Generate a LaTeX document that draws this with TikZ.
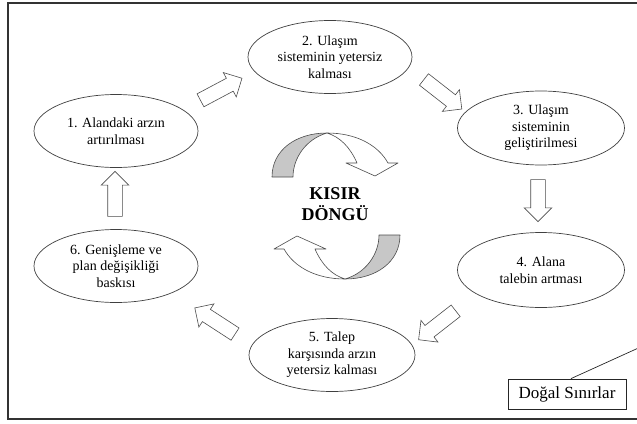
\documentclass[tikz,border=0pt]{standalone}
\usepackage{fontspec}
\setmainfont{Liberation Serif}
\usetikzlibrary{shapes.geometric,shapes.arrows}
\begin{document}
\begin{tikzpicture}[x=1pt,y=-1pt,
  ell/.style={draw=black!75, line width=0.7pt, ellipse, minimum width=164pt, minimum height=73pt, inner sep=0pt, align=center, font=\fontsize{14}{16.5}\selectfont},
  barr/.style={draw=black!70, line width=0.6pt, single arrow, single arrow head extend=6.5pt, single arrow head indent=0pt, minimum width=27pt, minimum height=46pt, inner sep=0pt, fill=white},
  band/.style={draw=black!70, line width=0.6pt, line join=round}]
\useasboundingbox (0,0) rectangle (637,423);
\clip (0,0) rectangle (637,423);
\draw[line width=1.4pt, black!80] (8,3) rectangle (660,419);

\node[ell] (e1) at (116,131) {1. Alandaki arzın\\artırılması};
\node[ell] (e2) at (330,57) {2. Ulaşım\\sisteminin yetersiz\\kalması};
\node[ell, minimum width=167pt, minimum height=74pt] (e3) at (541,128) {3. Ulaşım\\sisteminin\\geliştirilmesi};
\node[ell, minimum width=167pt, minimum height=75pt] (e4) at (541,270) {4. Alana\\talebin artması};
\node[ell, minimum width=166pt] (e5) at (332,355) {5. Talep\\karşısında arzın\\yetersiz kalması};
\node[ell] (e6) at (116,266) {6. Genişleme ve\\plan değişikliği\\baskısı};

\node[barr, rotate=28, minimum height=47pt] (a12) at (218,91) {\rule{0pt}{14pt}};
\node[barr, rotate=-38, minimum height=48pt] (a23) at (440,92) {\rule{0pt}{14pt}};
\node[barr, rotate=-90, minimum height=42pt] (a34) at (538,197) {\rule{0pt}{14pt}};
\node[barr, rotate=218, minimum height=47pt] (a45) at (440,323) {\rule{0pt}{14pt}};
\node[barr, rotate=147, minimum height=48pt] (a56) at (218,323) {\rule{0pt}{14pt}};
\node[barr, rotate=90, minimum height=45pt] (a61) at (115,197.5) {\rule{0pt}{14pt}};

% circular arrows
\begin{scope}
  \filldraw[band, fill=black!22] (272,177) .. controls (272,150) and (296,133) .. (327,133) .. controls (306,139) and (293,158) .. (293,177) -- cycle;
  \filldraw[band, fill=white] (327,133) .. controls (356,133) and (378,145) .. (388,163) -- (398,163) -- (375,176) -- (346,163) -- (357,163) .. controls (350,147) and (340,137) .. (327,133) -- cycle;
\end{scope}
\begin{scope}[rotate around={180:(336,206)}]
  \filldraw[band, fill=black!22] (272,177) .. controls (272,150) and (296,133) .. (327,133) .. controls (306,139) and (293,158) .. (293,177) -- cycle;
  \filldraw[band, fill=white] (327,133) .. controls (356,133) and (378,145) .. (388,163) -- (398,163) -- (375,176) -- (346,163) -- (357,163) .. controls (350,147) and (340,137) .. (327,133) -- cycle;
\end{scope}

\node[align=center, font=\fontsize{18}{21}\selectfont\bfseries] (kd) at (335,204) {KISIR\\DÖNGÜ};

\node[draw=black!85, line width=0.8pt, minimum width=118pt, minimum height=30pt, inner sep=0pt, font=\fontsize{17}{20}\selectfont] (ds) at (567,394) {Doğal Sınırlar};
\coordinate (dsend) at (645,345);
\draw[line width=0.7pt, black!85] ([xshift=4pt]ds.north) -- (dsend);
\end{tikzpicture}
\end{document}
